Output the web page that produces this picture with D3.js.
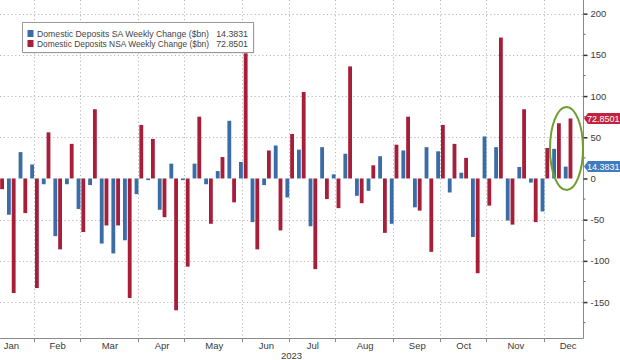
<!DOCTYPE html>
<html>
<head>
<meta charset="utf-8">
<script src="https://cdn.jsdelivr.net/npm/d3@7"></script>
<style>
  html, body { margin: 0; padding: 0; background: #fff; }
  svg { display: block; font-family: "Liberation Sans", Arial, sans-serif; }
</style>
</head>
<body>
<svg id="chart" width="620" height="360"></svg>
<script>
// ---- data ----
const weeks = [
  "2023-01-11","2023-01-18","2023-01-25",
  "2023-02-01","2023-02-08","2023-02-15","2023-02-22",
  "2023-03-01","2023-03-08","2023-03-15","2023-03-22","2023-03-29",
  "2023-04-05","2023-04-12","2023-04-19","2023-04-26",
  "2023-05-03","2023-05-10","2023-05-17","2023-05-24","2023-05-31",
  "2023-06-07","2023-06-14","2023-06-21","2023-06-28",
  "2023-07-05","2023-07-12","2023-07-19","2023-07-26",
  "2023-08-02","2023-08-09","2023-08-16","2023-08-23","2023-08-30",
  "2023-09-06","2023-09-13","2023-09-20","2023-09-27",
  "2023-10-04","2023-10-11","2023-10-18","2023-10-25",
  "2023-11-01","2023-11-08","2023-11-15","2023-11-22","2023-11-29",
  "2023-12-06","2023-12-13","2023-12-20"
];
const saValues = [
  -10, -44, 32,
  17, -7, -70, -7,
  -37, -8, -79, -91, -75,
  -19, -2, -38, 18,
  -2, 18, -7, 9, 70,
  20, -53, -8, 40,
  -23, 35, -58, 38,
  5, 30, -21, -15, 27,
  -55, 34, -35, 38,
  33, -17, 7, -71,
  51, 38, -51, 14, -5,
  -40, 36, 14.3831
];
const nsaValues = [
  -13, -139, -42,
  -133, 56, -86, 42,
  -65, 84, -57, -57, -145,
  65, 48, -47, -160,
  -107, 75, -55, 26, -29,
  160, -86, 34, -63,
  54, 105, -110, -25,
  -36, 136, -30, 16, -66,
  41, 75, -39, -89,
  65, 42, 25, -115,
  -33, 171, -56, 84, -53,
  37, 67, 72.8501
];
const seriesNames = ["Domestic Deposits SA Weekly Change ($bn)", "Domestic Deposits NSA Weekly Change ($bn)"];
const seriesKeys = ["SA", "NSA"];
const lastLabels = ["14.3831", "72.8501"];
const monthLabels = ["Jan","Feb","Mar","Apr","May","Jun","Jul","Aug","Sep","Oct","Nov","Dec"];
const yearLabel = "2023";
const yTicks = [-150, -100, -50, 0, 50, 100, 150, 200];
const yMinorTicks = [-175, -125, -75, -25, 25, 75, 125, 175];

// ---- layout ----
const W = 620, H = 360;
const plotL = 0, plotR = 583, plotT = 0, plotB = 338;
const colors = { SA: "#3a6da6", NSA: "#a71e39" };
const tagColors = { SA: "#3f7cbd", NSA: "#c2223d" };

const parse = d3.timeParse("%Y-%m-%d");
const dates = weeks.map(parse);

const svg = d3.select("#chart");

const x = d3.scaleTime()
  .domain([dates[0], dates[dates.length - 1]])
  .range([-0.3, 568.1]);
const inner = d3.scaleBand().domain(seriesKeys).range([-4.3, 4.3]).paddingInner(0.2);
const y = d3.scaleLinear().domain([-193.6, 216.6]).range([plotB, plotT]);

// month starts (first Wednesday of each month)
const monthStarts = d3.range(0, 13).map(m => d3.timeWednesday.ceil(new Date(2023, m, 1)));

// clip
svg.append("defs").append("clipPath").attr("id", "plotclip")
  .append("rect").attr("x", plotL).attr("y", plotT).attr("width", plotR - plotL).attr("height", plotB - plotT);

// gridlines
const grid = svg.append("g").attr("stroke", "#b9b9b9").attr("stroke-width", 1)
  .attr("stroke-dasharray", "1.2,2.6").attr("fill", "none");
grid.selectAll("line.h").data(yTicks.filter(v => v !== 0)).join("line")
  .attr("x1", plotL).attr("x2", plotR)
  .attr("y1", d => Math.round(y(d)) + 0.5).attr("y2", d => Math.round(y(d)) + 0.5);
grid.selectAll("line.v").data(monthStarts.slice(1, 12)).join("line")
  .attr("x1", d => Math.round(x(d)) - 0.5).attr("x2", d => Math.round(x(d)) - 0.5)
  .attr("y1", plotT).attr("y2", plotB);

// bars
const rows = dates.map((d, i) => ({ date: d, SA: saValues[i], NSA: nsaValues[i] }));
const barsG = svg.append("g").attr("clip-path", "url(#plotclip)");
seriesKeys.forEach(k => {
  barsG.append("g").attr("fill", colors[k])
    .selectAll("rect").data(rows).join("rect")
    .attr("x", d => x(d.date) + inner(k))
    .attr("width", inner.bandwidth())
    .attr("y", d => y(Math.max(0, d[k])))
    .attr("height", d => Math.abs(y(d[k]) - y(0)));
});

// axes lines
const axisColor = "#8a8a8a";
svg.append("line").attr("x1", plotL).attr("x2", plotR + 0.5).attr("y1", plotB + 0.5).attr("y2", plotB + 0.5)
  .attr("stroke", axisColor);
svg.append("line").attr("x1", plotR + 0.5).attr("x2", plotR + 0.5).attr("y1", plotT).attr("y2", plotB + 0.5)
  .attr("stroke", axisColor);

// right axis via d3.axisRight
const yAxis = d3.axisRight(y).tickValues(yTicks).tickSize(4).tickPadding(3)
  .tickFormat(d => d === 0 ? "0" : (d < 0 ? "-" + Math.abs(d) : String(d)));
const yAxisG = svg.append("g").attr("transform", `translate(${plotR + 0.5},0)`).call(yAxis);
yAxisG.select(".domain").remove();
yAxisG.selectAll(".tick line").attr("stroke", "#333").attr("stroke-width", 1.5);
yAxisG.selectAll(".tick text").attr("fill", "#3a3a3a").attr("font-size", 9.5)
  .attr("font-family", "'Liberation Sans', Arial, sans-serif");
svg.append("g").selectAll("line").data(yMinorTicks).join("line")
  .attr("x1", plotR + 0.5).attr("x2", plotR + 2.5)
  .attr("y1", d => y(d)).attr("y2", d => y(d))
  .attr("stroke", "#666");

// bottom ticks
svg.append("g").selectAll("line").data(monthStarts.slice(1, 12)).join("line")
  .attr("x1", d => Math.round(x(d)) - 0.5).attr("x2", d => Math.round(x(d)) - 0.5)
  .attr("y1", plotB).attr("y2", plotB + 4).attr("stroke", axisColor);

// month labels
svg.append("g").selectAll("text").data(monthLabels).join("text")
  .attr("x", (d, i) => (x(monthStarts[i]) + x(monthStarts[i + 1])) / 2)
  .attr("y", 348.5)
  .attr("text-anchor", "middle")
  .attr("font-size", 9.5)
  .attr("fill", "#3a3a3a")
  .text(d => d);
svg.append("text").attr("x", 291.5).attr("y", 358.5).attr("text-anchor", "middle")
  .attr("font-size", 9.5).attr("fill", "#3a3a3a").text(yearLabel);

// last-value tags
seriesKeys.forEach((k, si) => {
  const v = si === 0 ? saValues[saValues.length - 1] : nsaValues[nsaValues.length - 1];
  const cy = y(v);
  const g = svg.append("g");
  g.append("path")
    .attr("d", `M${plotR + 1},${cy} L${plotR + 5},${cy - 5.5} L${W + 2},${cy - 5.5} L${W + 2},${cy + 5.5} L${plotR + 5},${cy + 5.5} Z`)
    .attr("fill", tagColors[k]);
  g.append("text").attr("x", plotR + 4).attr("y", cy + 3.2)
    .attr("font-size", 9).attr("fill", "#fff").text(lastLabels[si]);
});

// green ellipse highlight
svg.append("ellipse").attr("cx", 566.5).attr("cy", 148.5).attr("rx", 16.5).attr("ry", 41.5)
  .attr("fill", "none").attr("stroke", "#6f9e2e").attr("stroke-width", 2);

// legend
const lg = svg.append("g");
lg.append("rect").attr("x", 23.5).attr("y", 23.5).attr("width", 231).attr("height", 30)
  .attr("fill", "#d8d8d8").attr("opacity", 0.7);
lg.append("rect").attr("x", 22.5).attr("y", 22.5).attr("width", 231).attr("height", 30)
  .attr("fill", "#fff").attr("stroke", "#9a9a9a");
seriesKeys.forEach((k, i) => {
  const ly = 33.5 + i * 10;
  lg.append("rect").attr("x", 27.5).attr("y", ly - 3.5).attr("width", 6).attr("height", 7)
    .attr("fill", colors[k]);
  lg.append("text").attr("x", 37).attr("y", ly + 3).attr("font-size", 8.8).attr("fill", "#444")
    .attr("textLength", 172).attr("lengthAdjust", "spacingAndGlyphs")
    .text(seriesNames[i]);
  lg.append("text").attr("x", 248).attr("y", ly + 3).attr("font-size", 8.8).attr("fill", "#444")
    .attr("text-anchor", "end").text(lastLabels[i]);
});
</script>
</body>
</html>
